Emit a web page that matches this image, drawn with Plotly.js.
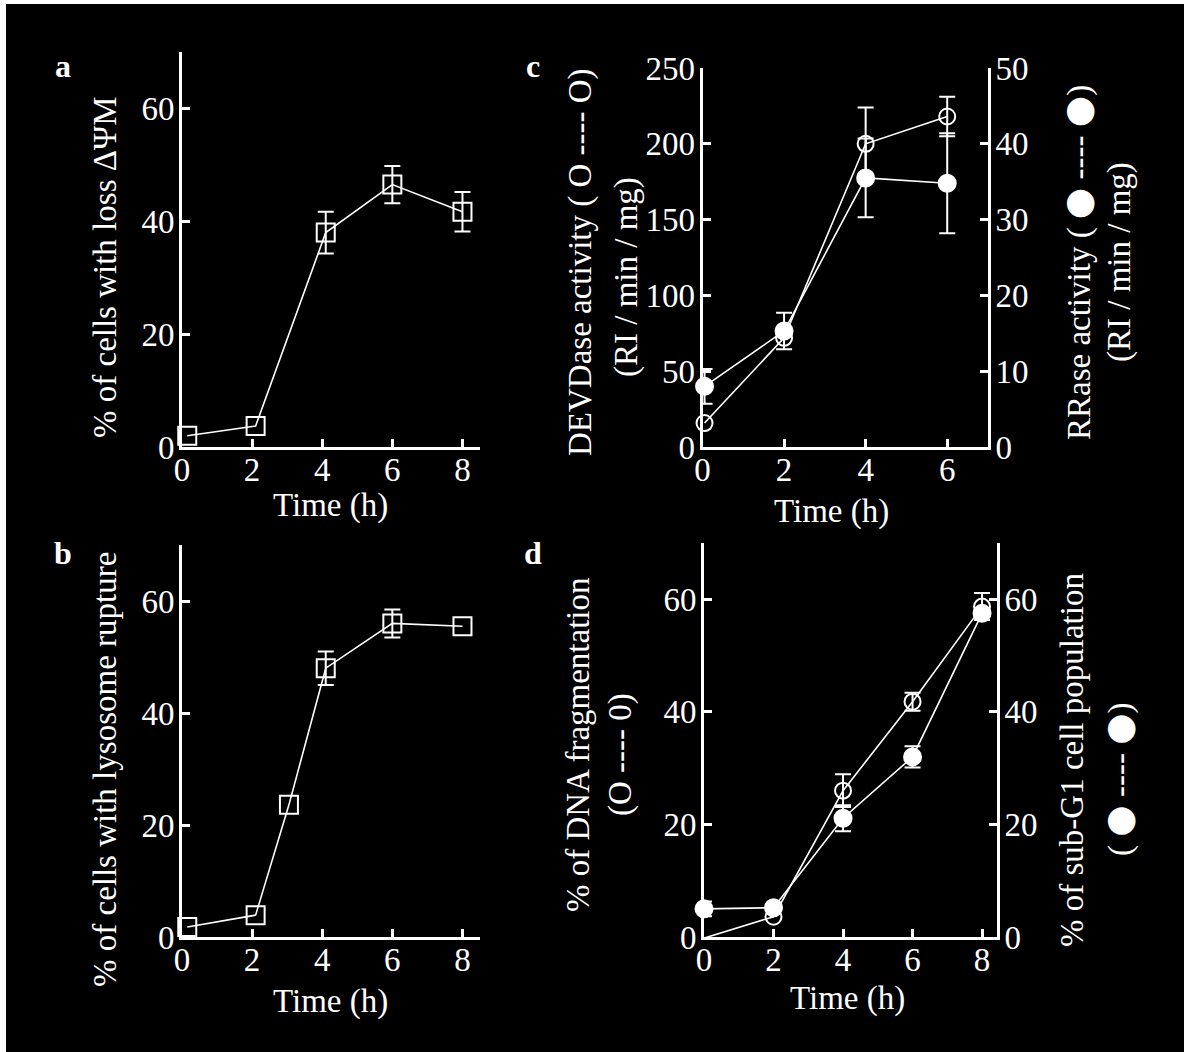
<!DOCTYPE html>
<html><head><meta charset="utf-8">
<script src="https://cdn.plot.ly/plotly-3.0.1.min.js"></script>
<style>html,body{margin:0;padding:0;background:#000;overflow:hidden}#chart{width:1184px;height:1052px}</style>
</head><body><div id="chart"></div>
<script>
const W = 1184, H = 1052;

// ---- data ----
const timeA = [0.15, 2.1, 4.1, 6, 8];
const lossPsiM = [2.0, 3.7, 38, 46.5, 41.7];
const lossPsiMErr = [NaN, NaN, 3.7, 3.3, 3.5];

const timeB = [0.15, 2.1, 3.05, 4.1, 6, 8];
const lysoRupture = [1.8, 3.9, 23.6, 48, 56, 55.5];
const lysoRuptureErr = [NaN, NaN, NaN, 3, 2.5, NaN];

const timeC = [0.05, 2, 4, 6];
const devdase = [15.8, 72, 200, 218];
const devdaseErr = [NaN, NaN, 24, 13];
const rrase = [8.0, 15.3, 35.5, 34.8];
const rraseErr = [2.3, 2.4, 5.2, 6.6];

const timeD = [0, 2, 4, 6, 8];
const dnaFrag = [-0.2, 3.6, 26, 41.8, 58.7];
const dnaFragErr = [NaN, NaN, 2.9, 1.6, 2.4];
const subG1 = [5.0, 5.2, 21.1, 32, 57.5];
const subG1Err = [1.3, NaN, 2.3, 1.9, NaN];

const ticksTime8 = [0, 2, 4, 6, 8];
const ticksTime6 = [0, 2, 4, 6];
const ticksPct = [0, 20, 40, 60];
const ticksDevd = [0, 50, 100, 150, 200, 250];
const ticksRr = [0, 10, 20, 30, 40, 50];

// ---- styling helpers ----
const FONT = 'Liberation Serif, Times New Roman, serif';
const fx = p => p / W;
const fy = p => 1 - p / H;

function axis(extra) {
  return Object.assign({
    showline: true, linecolor: '#fff', linewidth: 3,
    ticks: 'inside', ticklen: 8, tickwidth: 3, tickcolor: '#fff',
    showgrid: false, zeroline: false, fixedrange: true,
    tickfont: {family: FONT, size: 33, color: '#fff'},
    tickmode: 'array'
  }, extra);
}
const xa = e => axis(Object.assign({ticklabelstandoff: -9}, e));
const ya = e => axis(Object.assign({ticklabelstandoff: -2}, e));

function errs(arr) {
  return {type: 'data', array: arr, visible: true, color: '#fff', thickness: 2, width: 8};
}
function series(x, y, err, xax, yax, symbol, size) {
  return {
    type: 'scatter', mode: 'lines+markers', x: x, y: y, xaxis: xax, yaxis: yax,
    line: {color: '#fff', width: 1.6},
    marker: {symbol: symbol, size: size, color: '#fff', line: {color: '#fff', width: 2}},
    error_y: errs(err), cliponaxis: false, showlegend: false, hoverinfo: 'skip'
  };
}

const traces = [
  series(timeA, lossPsiM, lossPsiMErr, 'x', 'y', 'square-open', 18),
  series(timeB, lysoRupture, lysoRuptureErr, 'x2', 'y2', 'square-open', 18),
  series(timeC, devdase, devdaseErr, 'x3', 'y3', 'circle-open', 16),
  series(timeC, rrase, rraseErr, 'x3', 'y4', 'circle', 17),
  series(timeD, dnaFrag, dnaFragErr, 'x4', 'y5', 'circle-open', 16),
  series(timeD, subG1, subG1Err, 'x4', 'y6', 'circle', 17)
];

function txt(text, x, y, opts) {
  return Object.assign({
    text: text, x: fx(x), y: fy(y), xref: 'paper', yref: 'paper',
    xanchor: 'center', yanchor: 'middle', showarrow: false,
    font: {family: FONT, size: 33, color: '#fff'}
  }, opts || {});
}
const rot = {textangle: -90};
const bold = {font: {family: FONT, size: 32, color: '#fff', weight: 'bold'}};
const DOT = '<span style="font-family:DejaVu Sans;font-size:36px">●</span>';

const annotations = [
  txt('<b>a</b>', 63, 66, bold),
  txt('<b>b</b>', 63, 553, bold),
  txt('<b>c</b>', 533, 66, bold),
  txt('<b>d</b>', 533, 553, bold),
  txt('Time (h)', 330, 505),
  txt('Time (h)', 330, 1001),
  txt('Time (h)', 831, 512),
  txt('Time (h)', 847, 998),
  txt('% of cells with loss ΔΨM', 105, 267, rot),
  txt('% of cells with lysosome rupture', 105, 770, rot),
  txt('DEVDase activity ( O ---- O)', 581, 262, rot),
  txt('(RI / min / mg)', 626, 277, rot),
  txt('RRase activity ( ' + DOT + ' ---- ' + DOT + ')', 1077, 263, rot),
  txt('(RI / min / mg)', 1120, 262, rot),
  txt('% of DNA fragmentation', 578, 745, rot),
  txt('(O ---- 0)', 620, 755, rot),
  txt('% of sub-G1 cell population', 1072, 760, rot),
  txt('( ' + DOT + ' ---- ' + DOT + ')', 1118, 779, rot)
];

const layout = {
  width: W, height: H,
  margin: {l: 0, r: 0, t: 0, b: 0},
  paper_bgcolor: '#000', plot_bgcolor: 'rgba(0,0,0,0)',
  showlegend: false,
  xaxis: xa({domain: [fx(182), fx(480)], range: [0, 8.5], anchor: 'y', tickvals: ticksTime8}),
  yaxis: ya({domain: [fy(447), fy(52)], range: [0, 70], anchor: 'x', tickvals: ticksPct}),
  xaxis2: xa({domain: [fx(182), fx(480)], range: [0, 8.5], anchor: 'y2', tickvals: ticksTime8}),
  yaxis2: ya({domain: [fy(937), fy(545)], range: [0, 70], anchor: 'x2', tickvals: ticksPct}),
  xaxis3: xa({domain: [fx(702.5), fx(988)], range: [0, 7], anchor: 'y3', tickvals: ticksTime6}),
  yaxis3: ya({domain: [fy(447), fy(68)], range: [0, 250], anchor: 'x3', tickvals: ticksDevd}),
  yaxis4: ya({range: [0, 50], anchor: 'x3', overlaying: 'y3', side: 'right', tickvals: ticksRr}),
  xaxis4: xa({domain: [fx(704), fx(997)], range: [0, 8.43], anchor: 'y5', tickvals: ticksTime8}),
  yaxis5: ya({domain: [fy(937), fy(543)], range: [0, 70], anchor: 'x4', tickvals: ticksPct}),
  yaxis6: ya({range: [0, 70], anchor: 'x4', overlaying: 'y5', side: 'right', tickvals: ticksPct}),
  annotations: annotations,
  shapes: [
    {type: 'rect', xref: 'paper', yref: 'paper', x0: 0, x1: fx(6), y0: 0, y1: 1, fillcolor: '#fff', line: {width: 0}},
    {type: 'rect', xref: 'paper', yref: 'paper', x0: 0, x1: 1, y0: fy(4), y1: 1, fillcolor: '#fff', line: {width: 0}}
  ]
};

Plotly.newPlot('chart', traces, layout, {staticPlot: true, displayModeBar: false});
</script>
</body></html>
